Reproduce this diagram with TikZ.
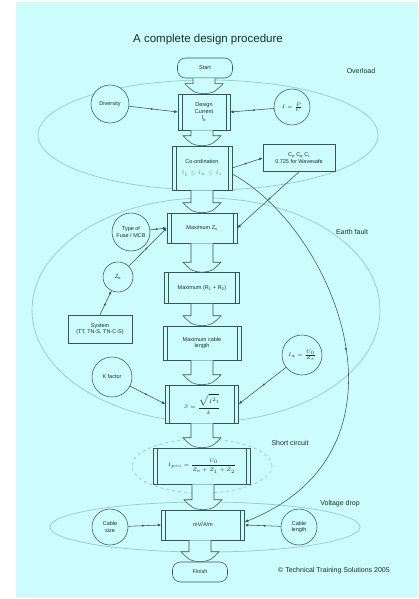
\documentclass[tikz,border=0pt]{standalone}
\usepackage{fontspec}
\setmainfont{Liberation Sans}
\usetikzlibrary{calc,arrows.meta,decorations.markings}
\definecolor{bg}{RGB}{204,252,252}
\definecolor{ln}{RGB}{55,85,85}
\definecolor{el}{RGB}{155,200,200}
\definecolor{tx}{RGB}{25,45,45}
\newcommand{\blkarr}[2]{%
  \draw[blk] ($(#1.south -| #2.north)+(-11,0)$) -- ($(#2.north)+(-11,-10)$) -- ($(#2.north)+(-19,-10)$)
    .. controls ($(#2.north)+(-10,-1)$) .. (#2.north)
    .. controls ($(#2.north)+(10,-1)$) .. ($(#2.north)+(19,-10)$)
    -- ($(#2.north)+(11,-10)$) -- ($(#1.south -| #2.north)+(11,0)$);}
\begin{document}
\begin{tikzpicture}[x=1pt,y=-1pt,
  font=\fontsize{5.5}{6.5}\selectfont, text=tx,
  proc/.style 2 args={draw=ln, fill=bg, line width=0.55pt, minimum width=#1, minimum height=#2,
    align=center, inner sep=1pt,
    path picture={\draw[ln,line width=0.45pt]
      ([xshift=4pt]path picture bounding box.north west) -- ([xshift=4pt]path picture bounding box.south west)
      ([xshift=-4pt]path picture bounding box.north east) -- ([xshift=-4pt]path picture bounding box.south east);}},
  circ/.style={draw=ln, fill=bg, line width=0.55pt, circle, minimum size=#1, inner sep=0pt, align=center},
  term/.style={draw=ln, fill=bg, line width=0.55pt, rounded corners=8pt, minimum width=55pt, minimum height=20pt},
  sbox/.style 2 args={draw=ln, fill=bg, line width=0.55pt, minimum width=#1, minimum height=#2, align=center, inner sep=1pt},
  blk/.style={draw=ln, fill=bg, line width=0.55pt},
  conn/.style={draw=ln, line width=0.55pt, -{Latex[length=3.5pt,width=3pt]},
    postaction={decorate},
    decoration={markings, mark=at position 0.5 with {\arrow{Latex[length=2.5pt,width=2.2pt]}}}},
  ell/.style={draw=el, line width=0.7pt},
  lbl/.style={font=\fontsize{7}{8}\selectfont, text=tx}
]
% background
\fill[white] (0,0) rectangle (418,599);
\fill[bg] (16,2) rectangle (418,597);
\useasboundingbox (0,0) rectangle (418,599);

% zone ellipses
\draw[ell] (208,135) ellipse [x radius=170pt, y radius=55pt];
\draw[ell] (206,310) ellipse [x radius=174pt, y radius=112pt];
\draw[ell, dashed] (202,466) ellipse [x radius=70pt, y radius=27pt];
\draw[ell] (205,527) ellipse [x radius=155pt, y radius=25pt];

% title and labels
\node[font=\fontsize{11.5}{13}\selectfont] (title) at (208,40) {A complete design procedure};
\node[lbl] (lover) at (361,71) {Overload};
\node[lbl] (learth) at (352,232) {Earth fault};
\node[lbl] (lshort) at (290,443) {Short circuit};
\node[lbl] (lvolt) at (340,504) {Voltage drop};
\node[lbl] (copy) at (334,571) {\textcopyright\ Technical Training Solutions 2005};

% main column
\node[term] (start) at (205,68) {Start};
\node[proc={52pt}{36pt}] (dc) at (204,112) {Design\\Current\\I\textsubscript{b}};
\node[proc={60pt}{44pt}] (coord) at (202,168) {Co-ordination\\[4pt]\textcolor{ln!70}{$I_b\le I_n\le I_z$}};
\node[proc={70pt}{30pt}] (maxzs) at (202,228) {Maximum Z\textsubscript{s}};
\node[proc={75pt}{31pt}] (maxr) at (202,288) {Maximum (R\textsubscript{1} + R\textsubscript{2})};
\node[proc={78pt}{34pt}] (maxl) at (202,343) {Maximum cable\\length};
\node[proc={73pt}{38pt}] (sform) at (202,404) {$S=\displaystyle\frac{\sqrt{I^2t}}{k}$};
\node[proc={97pt}{36pt}] (sc) at (202,466) {$I_{psc}=\displaystyle\frac{U_0}{Z_e+Z_1+Z_2}$};
\node[proc={83pt}{30pt}] (vd) at (203,525) {mV/A/m};
\node[term] (finish) at (200,572) {Finish};

% block arrows
\blkarr{start}{dc}
\blkarr{dc}{coord}
\blkarr{coord}{maxzs}
\blkarr{maxzs}{maxr}
\blkarr{maxr}{maxl}
\blkarr{maxl}{sform}
\blkarr{sform}{sc}
\blkarr{sc}{vd}
\blkarr{vd}{finish}

% side nodes
\node[circ=38pt] (div) at (110,104) {Diversity};
\node[circ=36pt] (ipu) at (292,107) {$I=\frac{P}{U}$};
\node[sbox={72pt}{27pt}] (ca) at (299,158) {C\textsubscript{a} C\textsubscript{g} C\textsubscript{i}\\0.725 for Wavesafe};
\node[circ=38pt] (fuse) at (131,232) {Type of\\Fuse / MCB};
\node[circ=30pt] (ze) at (118,277) {Z\textsubscript{e}};
\node[sbox={64pt}{28pt}] (sys) at (100,329) {System\\(TT, TN-S, TN-C-S)};
\node[circ=40pt] (kf) at (112,377) {K factor};
\node[circ=40pt] (ia) at (302,355) {$I_a=\frac{U_0}{Z_s}$};
\node[circ=36pt] (csize) at (110,527) {Cable\\size};
\node[circ=36pt] (clen) at (299,527) {Cable\\length};

% connectors
\draw[conn] (div) -- (dc.west);
\draw[conn] (ipu) -- (dc.east);
\draw[conn] (coord.east) -- (ca.west);
\draw[conn] (ca.south) -- (maxzs.east);
\draw[conn] ([yshift=-6pt]coord.east) .. controls (335,230) and (425,450) .. ([yshift=3pt]vd.east);
\draw[conn] (fuse) -- (maxzs.west);
\draw[conn] (ze) -- (maxzs.west);
\draw[conn] (sys.north) -- (ze);
\draw[conn] (kf) -- (sform.west);
\draw[conn] (ia) -- (sform.east);
\draw[conn] (csize) -- (vd.west);
\draw[conn] (clen) -- (vd.east);
\end{tikzpicture}
\end{document}
